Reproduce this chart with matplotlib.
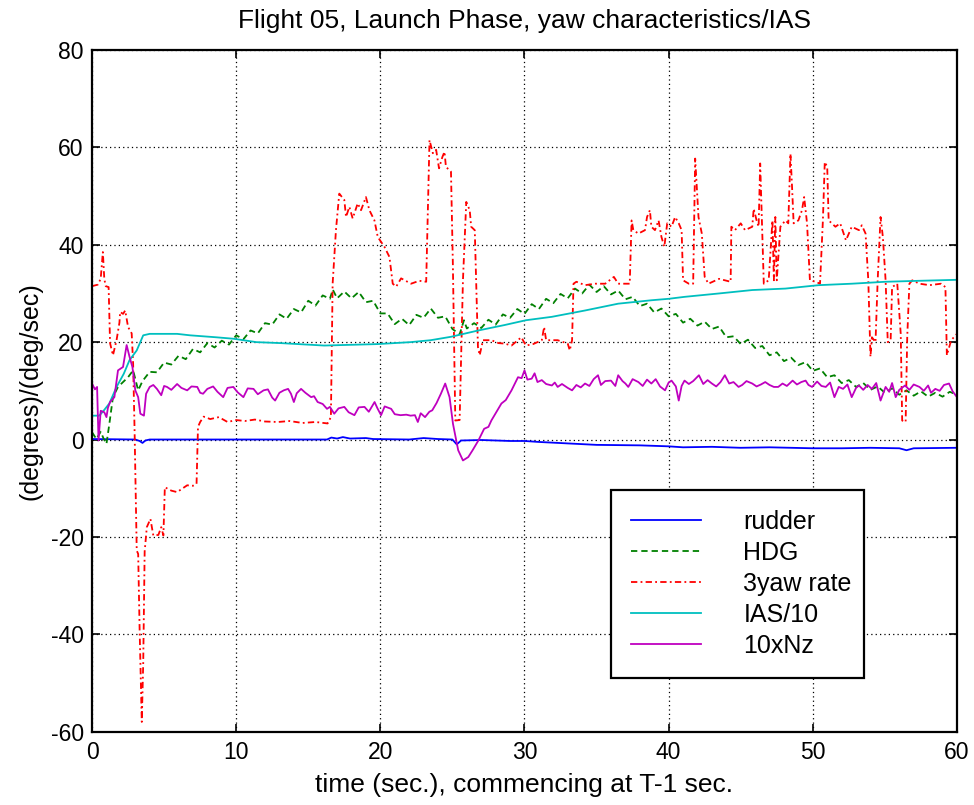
import matplotlib
matplotlib.use("Agg")
import matplotlib.pyplot as plt

plt.rcParams['font.family'] = ['Liberation Sans', 'DejaVu Sans']
plt.rcParams['font.size'] = 15
plt.rcParams['axes.unicode_minus'] = False

# rudder
rud_t = [0, 3.0, 3.3, 3.5, 3.7, 4.0, 10, 16.3, 16.6, 17.0, 17.4, 17.9, 19.0, 19.5, 22.0, 23.0,
         24.0, 25.0, 25.3, 25.6, 27, 29, 30, 31.0, 33, 35, 38, 40, 41, 43, 45, 47, 50, 52,
         54, 56, 56.5, 57, 60]
rud_v = [0.1, 0.0, -0.3, -0.7, -0.2, 0.0, 0.0, 0.0, 0.4, 0.2, 0.5, 0.2, 0.3, 0.1, 0.0, 0.3,
         0.1, 0.0, -1.0, -0.2, -0.1, -0.3, -0.3, -0.5, -0.8, -1.1, -1.2, -1.4, -1.6, -1.5, -1.7,
         -1.6, -1.8, -1.8, -1.7, -1.8, -2.2, -1.8, -1.7]

# heading
hdg_t = [0, 0.3, 0.6, 0.8, 1.0, 1.2, 1.45, 1.8, 2.15, 2.5, 2.85, 3.2,
         3.5, 4.0, 4.5, 5.0, 5.5, 6.0, 6.5, 7.0, 7.5, 8.0, 8.5, 9.0, 9.5, 10.0, 10.5,
         11.0, 11.5, 12.0, 12.5, 13.0, 13.5, 14.0, 14.5, 15.0, 15.5, 16.0, 16.5, 16.7,
         17.0, 17.5, 18.0, 18.5, 19.0, 19.5, 20.0, 20.5, 21.0, 21.5, 22.0, 22.5, 23.0,
         23.5, 24.0, 24.5, 25.0, 25.5, 25.8, 26.0, 26.5, 27.0, 27.5, 28.0, 28.5, 29.0,
         29.5, 30.0, 30.5, 31.0, 31.5, 32.0, 32.5, 33.0, 33.5, 34.0, 34.5, 35.0, 35.5,
         36.0, 36.5, 37.0, 37.5, 38.0, 38.5, 39.0, 39.5, 40.0, 40.5, 41.0, 41.5, 42.0,
         42.5, 43.0, 43.5, 44.0, 44.5, 45.0, 45.5, 46.0, 46.5, 47.0, 47.5, 48.0, 48.5,
         49.0, 49.5, 50.0, 50.5, 51.0, 51.5, 52.0, 52.5, 53.0, 53.5, 54.0, 54.5, 55.0,
         55.5, 56.0, 56.5, 57.0, 57.5, 58.0, 58.5, 59.0, 59.5, 60.0]
hdg_v = [1.5, 0.1, 1.6, 0.2, -0.9, 3.2, 8.7, 10.8, 11.8, 12.8, 14.2, 10.1,
         12.0, 13.9, 13.8, 15.8, 15.4, 17.2, 16.5, 18.6, 17.9, 19.8, 18.9, 20.3, 19.5, 21.4, 20.6,
         22.4, 21.8, 23.9, 23.6, 25.7, 24.8, 26.8, 26.1, 28.5, 27.5, 29.6, 28.9, 30.8,
         29.0, 30.4, 29.0, 30.3, 28.2, 28.5, 25.9, 25.9, 23.7, 24.8, 23.5, 25.6, 25.0,
         26.9, 25.0, 25.3, 22.7, 21.6, 24.5, 22.8, 23.9, 22.9, 24.6, 23.6, 25.7, 25.0,
         26.8, 25.8, 27.8, 26.8, 28.9, 28.0, 29.9, 29.0, 31.0, 30.0, 31.8, 30.3, 31.5,
         29.8, 30.6, 28.8, 29.3, 27.4, 27.9, 26.1, 26.9, 25.3, 25.8, 24.0, 24.8, 23.4,
         24.2, 22.7, 23.2, 21.0, 21.2, 19.6, 20.5, 18.8, 19.2, 17.3, 17.9, 16.1, 16.8,
         15.3, 15.9, 14.1, 14.6, 12.8, 13.2, 11.6, 12.2, 10.8, 11.6, 10.2, 10.9, 9.6,
         10.5, 9.2, 10.1, 9.0, 9.9, 8.8, 9.6, 8.8, 9.8, 9.2]

# 3 x yaw rate
yaw_t = [0.0, 0.4, 0.6, 0.75, 0.85, 0.95, 1.15, 1.25, 1.45, 1.7, 1.9, 1.95, 2.15, 2.3, 2.5,
         2.75, 2.85, 2.95, 3.1, 3.2, 3.3, 3.45, 3.55, 3.65, 3.8, 4.05, 4.25, 4.6, 4.8, 4.95,
         5.05, 5.5, 5.9, 6.3, 6.6, 7.0, 7.25, 7.35, 7.5, 7.75, 8.2, 8.8, 9.4, 10, 10.6, 11.3,
         12, 12.9, 13.7, 14.6, 15.5, 16.34, 16.57, 16.69, 16.92, 17.15, 17.5, 17.62, 17.85,
         18.08, 18.43, 18.66, 19.0, 19.24, 19.59, 19.82, 20.28, 20.63, 20.86, 21.1, 21.44,
         22.13, 22.7, 23.18, 23.41, 23.64, 23.87, 24.07, 24.3, 24.45, 24.55, 24.9, 25.03,
         25.2, 25.5, 25.73, 25.96, 26.2, 26.3, 26.55, 26.77, 26.89, 27.12, 27.7, 28.2, 28.63,
         29.1, 29.78, 30.1, 30.6, 31.2, 31.36, 31.5, 32.3, 33.0, 33.14, 33.3, 33.4, 33.6,
         34.2, 34.9, 35.6, 36.2, 36.5, 37.3, 37.43, 37.55, 37.9, 38.36, 38.5, 38.7, 38.8,
         39.05, 39.3, 39.5, 39.7, 39.9, 40.2, 40.45, 40.7, 40.9, 41.0, 41.4, 41.7, 41.84,
         41.95, 42.07, 42.3, 42.5, 42.76, 43.5, 44.3, 44.35, 44.6, 45.0, 45.3, 45.8, 45.9,
         46.1, 46.24, 46.35, 46.5, 46.6, 46.94, 47.2, 47.3, 47.4, 47.5, 47.75, 48.1, 48.3,
         48.45, 48.56, 48.67, 49.0, 49.25, 49.4, 49.6, 49.8, 50.2, 50.5, 50.7, 50.83, 51.0,
         51.1, 51.57, 51.9, 52.3, 52.7, 53.2, 53.4, 53.66, 53.85, 54.0, 54.1, 54.35, 54.5,
         54.7, 54.86, 55.05, 55.2, 55.4, 55.5, 55.86, 56.1, 56.2, 56.44, 56.55, 56.7, 56.9,
         57.4, 58.1, 58.9, 59.2, 59.3, 59.6, 60.0]
yaw_v = [31.5, 31.8, 33, 38.5, 33, 31.5, 31.3, 19.8, 17.3, 20.4, 24, 26.2, 25.8, 26.5, 23.1,
         21.8, 15.6, 2, -22.8, -23.5, -39, -58, -46, -23, -18, -16.3, -19.7, -19.6, -18, -19.7,
         -9.8, -10.5, -10.8, -10, -9.4, -9.5, -9.1, 2.6, 3.6, 4.7, 4.2, 4.6, 3.6, 4, 3.8, 4.1,
         3.7, 3.6, 3.8, 3.4, 3.6, 3.3, 4.6, 32, 43, 50.5, 49.2, 45.7, 47.8,
         45.4, 48.5, 47.1, 49.8, 47.1, 45, 41.6, 39.6, 37.5, 32, 31.4, 33.1,
         32, 32.6, 32.4, 61.5, 58.8, 59.5, 55.7, 58, 59.1, 56, 55, 36.1,
         3.9, 4, 32.7, 48.8, 47.1, 43.7, 43, 19, 17.3, 20.4, 20.4, 19.8, 19.7,
         19.3, 21, 19.3, 19.6, 20.4, 23.1, 20.4, 20.4, 19.7, 18.3, 20.4, 32, 32.4,
         31.7, 32, 32, 33.4, 32, 32, 45, 43, 42.3, 43, 45.7, 47.1, 43.7,
         43, 45, 41.6, 39.6, 44.4, 43.7, 45.7, 44.4, 43, 32.7, 32, 32, 57.7,
         51.9, 45.7, 42.3, 33.4, 32, 33, 32.4, 43.7, 43, 44.4, 43, 43.7, 47.4,
         45, 43.7, 56.7, 41.6, 32, 32.7, 45, 32.7, 45.7, 32.7, 43.7, 45, 44.4,
         58.7, 51.9, 44.4, 45, 47.1, 49.8, 44.4, 32.7, 32.4, 32, 45, 57, 56,
         45, 43.7, 44.4, 40.9, 43.7, 43, 44, 42.3, 32.7, 17, 21, 20, 32.7,
         45.7, 41.6, 32.7, 20, 20.4, 31.3, 32, 21.7, 3.9, 3.6, 21, 32, 32.7,
         32, 31.7, 32, 31.3, 17.3, 20.4, 21.7]

# IAS / 10
ias_t = [0, 0.5, 0.8, 1.2, 1.7, 2.2, 2.6, 3.1, 3.55, 4.0, 5.9, 6.8, 8.6, 9.8, 11.4, 13.1,
         16.1, 19.8, 22.1, 23.5, 24.9, 26.8, 28.6, 30.1, 31.9, 34.2, 36.5, 38.8, 40, 41.1,
         43.5, 45.8, 48.1, 50.4, 52.7, 55.05, 57.4, 60]
ias_v = [4.9, 4.9, 5.9, 7.4, 10.8, 13.5, 16.3, 18.3, 21.4, 21.7, 21.7, 21.4, 21.0, 20.7, 20.0,
         19.8, 19.3, 19.6, 20.0, 20.4, 21.1, 22.4, 23.5, 24.5, 25.2, 26.5, 27.9, 28.6, 28.9,
         29.3, 30.0, 30.7, 31.0, 31.7, 32.0, 32.4, 32.6, 32.8]

# 10 x Nz
nz_t = [0, 0.2, 0.35, 0.45, 0.6, 0.85, 1.0, 1.1, 1.25, 1.55, 1.8, 2.15, 2.4, 2.6, 2.8, 3.0,
        3.2, 3.35, 3.6, 3.75, 4.0, 4.25, 4.5, 4.8, 5.0, 5.2, 5.5, 5.9, 6.2, 6.6, 6.9, 7.3,
        7.5, 7.7, 8.0, 8.4, 8.7, 9.1, 9.4, 9.8, 10.1, 10.5, 10.8, 11.2, 11.5, 11.9, 12.2,
        12.5, 12.7, 13.0, 13.3, 13.6, 13.8, 14.0, 14.2, 14.5, 14.8, 15.2, 15.4, 15.65, 16.0,
        16.3, 16.5, 16.8, 17.1, 17.5, 17.8, 18.2, 18.5, 18.9, 19.2, 19.6, 19.8, 20.05, 20.3,
        20.75, 21.0, 21.4, 21.8, 22.1, 22.4, 22.6, 22.8, 23.1, 23.4, 23.6, 23.9, 24.2, 24.5,
        24.8, 25.04, 25.4, 25.73, 26.1, 26.4, 26.8, 27.2, 27.5, 27.7, 28.0, 28.4, 28.7, 29.1,
        29.3, 29.55, 29.8, 30.0, 30.2, 30.5, 30.7, 30.9, 31.2, 31.5, 31.9, 32.1, 32.3, 32.6,
        33.0, 33.3, 33.6, 33.9, 34.2, 34.5, 34.8, 35.1, 35.3, 35.6, 36.0, 36.3, 36.5, 36.8,
        37.0, 37.2, 37.5, 37.9, 38.2, 38.5, 38.8, 39.1, 39.4, 39.75, 40.0, 40.2, 40.5, 40.7,
        40.9, 41.1, 41.4, 41.7, 42.1, 42.4, 42.7, 43.0, 43.3, 43.6, 43.9, 44.2, 44.5, 44.85,
        45.1, 45.4, 45.8, 46.1, 46.4, 46.7, 47.0, 47.3, 47.6, 47.9, 48.2, 48.6, 48.9, 49.2,
        49.5, 49.7, 49.95, 50.3, 50.6, 50.9, 51.2, 51.5, 51.8, 52.1, 52.4, 52.7, 53.0, 53.2,
        53.5, 53.8, 54.1, 54.4, 54.7, 55.05, 55.3, 55.5, 55.75, 56.0, 56.4, 56.7, 57.0, 57.4,
        57.7, 58.0, 58.2, 58.5, 58.8, 59.1, 59.45, 59.7, 60.0]
nz_v = [11.5, 10.3, 10.8, -0.2, 5.9, 5.6, 4.6, 6.5, 7.7, 8.7, 14.2, 14.9, 19.4, 17.0, 14.9, 10.1,
        8.7, 5.3, 4.9, 9.4, 10.8, 11.2, 10.4, 9.1, 11.0, 10.8, 10.2, 11.4, 10.6, 10.1, 10.9, 10.8,
        9.6, 9.4, 10.4, 10.9, 9.8, 8.7, 10.6, 10.8, 9.7, 8.7, 10.5, 10.4, 9.3, 10.1, 10.3,
        8.6, 8.0, 9.6, 10.1, 10.4, 9.4, 7.7, 9.5, 10.4, 9.6, 8.7, 8.9, 7.7, 7.3,
        6.3, 6.7, 5.3, 6.4, 6.7, 5.6, 5.0, 6.6, 6.7, 5.7, 7.7, 6.4, 5.0, 6.8,
        6.3, 5.2, 5.0, 5.1, 4.9, 5.0, 3.6, 5.4, 4.6, 5.7, 6.0, 7.5, 9.4, 11.5,
        8.7, 3.2, -2.2, -4.3, -3.6, -2.2, -0.2, 2.2, 2.6, 3.9, 5.4, 7.4, 8.1, 10.1,
        11.3, 12.8, 12.6, 14.2, 12.3, 12.5, 13.6, 11.8, 12.2, 11.4, 11.1, 11.7, 10.8, 11.4,
        10.6, 10.1, 11.2, 10.7, 11.5, 11.0, 12.4, 13.2, 11.2, 12.0, 12.1, 11.0, 13.2, 12.0,
        11.5, 10.8, 12.4, 11.8, 11.0, 12.3, 11.5, 12.4, 10.9, 10.1, 11.7, 12.1, 10.9, 8.0,
        11.0, 12.1, 11.4, 12.0, 13.2, 11.4, 12.2, 11.5, 10.9, 11.8, 13.2, 11.5, 11.8, 10.8,
        11.2, 12.0, 11.5, 10.9, 11.3, 11.8, 11.2, 10.8, 10.8, 11.5, 11.0, 12.1, 11.3, 11.8,
        12.1, 11.2, 10.8, 11.9, 11.0, 10.8, 11.7, 8.7, 10.8, 10.4, 11.3, 8.7, 10.6, 11.1,
        10.2, 11.2, 10.4, 11.6, 8.0, 10.8, 9.8, 11.6, 8.7, 10.2, 11.1, 10.2, 11.3, 10.8,
        10.0, 11.1, 9.6, 10.4, 10.0, 11.2, 11.5, 9.9, 8.7]

fig = plt.figure(figsize=(9.74, 8.05), dpi=100)
ax = fig.add_axes([0.0945, 0.0911, 0.888, 0.8468])

lw = 1.3
ax.plot(rud_t, rud_v, color='#0000ff', lw=lw, label='rudder')
ax.plot(hdg_t, hdg_v, color='#008000', lw=lw, dashes=(3.5, 2.2), label='HDG')
ax.plot(yaw_t, yaw_v, color='#ff0000', lw=lw, dashes=(3.5, 1.8, 1, 1.8), label='3yaw rate')
ax.plot(ias_t, ias_v, color='#00bfbf', lw=lw, label='IAS/10')
ax.plot(nz_t, nz_v, color='#bf00bf', lw=lw, label='10xNz')

ax.set_xlim(0, 60)
ax.set_ylim(-60, 80)
ax.set_xticks(range(0, 61, 10))
ax.set_yticks(range(-60, 81, 20))
ax.grid(True, color='black', linestyle=(0, (1, 2.5)), linewidth=0.9)
ax.tick_params(direction='in', top=True, right=True, length=6, width=1.2, labelsize=16.5)
ax.tick_params(axis='x', pad=7)
ax.tick_params(axis='y', pad=6)
for s in ax.spines.values():
    s.set_linewidth(1.6)

ax.set_title('Flight 05, Launch Phase, yaw characteristics/IAS', fontsize=19, pad=16)
ax.set_xlabel('time (sec.), commencing at T-1 sec.', fontsize=19, labelpad=6)
ax.set_ylabel('(degrees)/(deg/sec)', fontsize=18, labelpad=6)

leg = ax.legend(loc='lower left', bbox_to_anchor=(0.6, 0.079, 0.292, 0.275), mode='expand',
                fontsize=18, fancybox=False, framealpha=1, edgecolor='black',
                handlelength=2.8, handletextpad=1.7, borderpad=0.8, labelspacing=0.28,
                borderaxespad=0)
leg.get_frame().set_linewidth(1.6)

fig.savefig('out.png', dpi=100)
